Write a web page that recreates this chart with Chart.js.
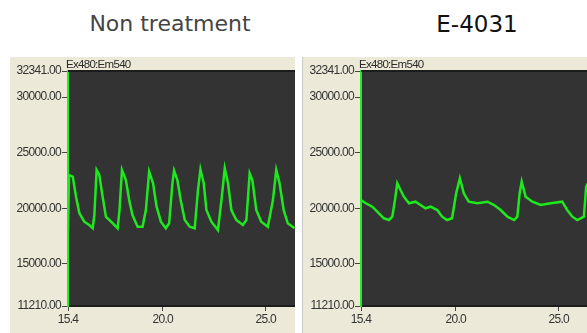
<!DOCTYPE html>
<html>
<head>
<meta charset="utf-8">
<script src="https://cdn.jsdelivr.net/npm/chart.js@4.4.1/dist/chart.umd.min.js"></script>
<style>
  html, body { margin: 0; padding: 0; background: #fff; }
  body { width: 587px; height: 333px; position: relative; overflow: hidden; }
  .title { position: absolute; top: 11px; width: 220px; text-align: center; white-space: nowrap;
           font-family: "DejaVu Sans", Verdana, sans-serif; font-size: 22px; line-height: 26px; }
  .title-left { left: 60px; color: #444; }
  .title-right { left: 367px; color: #111; font-size: 23px; }
  .panel { position: absolute; top: 57px; width: 285px; height: 276px; background: #ece9d8; }
  .panel-left { left: 10px; }
  .panel-right { left: 302px; border-left: 1px solid #c8c8c8; }
  canvas { display: block; }
</style>
</head>
<body>
<div class="title title-left">Non treatment</div>
<div class="title title-right">E-4031</div>
<div class="panel panel-left"><canvas id="left" width="285" height="276"></canvas></div>
<div class="panel panel-right"><canvas id="right" width="285" height="276"></canvas></div>

<script>
// traces: time (s) and fluorescence counts
const leftSeconds = [15.40, 15.45, 15.63, 15.79, 15.95, 16.19, 16.43, 16.60, 16.68, 16.79, 16.92, 17.08, 17.24, 17.57, 17.81,
    17.90, 18.02, 18.21, 18.37, 18.53, 18.78, 19.02, 19.18, 19.34, 19.53, 19.70, 19.91, 20.15, 20.31, 20.47,
    20.55, 20.71, 20.87, 21.07, 21.31, 21.55, 21.71, 21.83, 21.99, 22.12, 22.36, 22.68, 22.85, 23.01, 23.17,
    23.33, 23.57, 23.89, 24.06, 24.22, 24.35, 24.54, 24.78, 25.10, 25.35, 25.51, 25.67, 25.87, 26.07, 26.40];
const leftValues = [17860, 22990, 22840, 21040, 19570, 18790, 18490, 18200, 19390, 23440, 22990, 21040, 19240, 18650, 18200,
    19840, 23440, 22540, 20740, 19390, 18340, 18340, 19840, 23290, 22240, 20140, 18790, 18200, 18650, 22240,
    23380, 22540, 20740, 18940, 18340, 18200, 21640, 23500, 22240, 19840, 18790, 18040, 20740, 23590, 22240,
    19840, 18940, 18490, 18940, 23140, 22540, 19840, 18790, 18340, 20740, 23440, 22240, 19840, 18650, 18200];

const rightSeconds = [15.40, 15.63, 15.95, 16.27, 16.51, 16.76, 16.92, 17.05, 17.16, 17.32, 17.48, 17.73, 18.05, 18.29,
    18.53, 18.78, 19.10, 19.34, 19.58, 19.82, 20.02, 20.20, 20.39, 20.63, 21.05, 21.54, 21.86, 22.18, 22.51,
    22.83, 22.99, 23.10, 23.20, 23.39, 23.72, 24.12, 24.61, 25.17, 25.41, 25.66, 25.90, 26.22, 26.33, 26.41];
const rightValues = [20740, 20445, 20140, 19546, 19096, 18943, 19240, 20740, 22240, 21640, 21040, 20445, 20590, 20290,
    19995, 20140, 19840, 19240, 18940, 19100, 21340, 22690, 21340, 20590, 20445, 20590, 20290, 19840, 19240,
    18940, 19240, 21340, 22390, 21040, 20590, 20290, 20445, 20590, 19840, 19240, 18940, 19240, 21940, 22240];

const yTickValues = [32341, 30000, 25000, 20000, 15000, 11210];
const xTickValues = [15.4, 20.0, 25.0];
const xRange = [15.4, 26.42];
const channelLabel = 'Ex480:Em540';

const axisFont = '"Liberation Sans", Arial, sans-serif';
const squeeze = '-0.7px';

const plotFrame = {
    id: 'plotFrame',
    beforeLayout(chart) {
        chart.ctx.letterSpacing = squeeze;
    },
    beforeDraw(chart) {
        const { ctx, chartArea: a } = chart;
        ctx.letterSpacing = squeeze;
        ctx.save();
        ctx.fillStyle = '#333333';
        ctx.fillRect(a.left, a.top, a.right - a.left, a.bottom - a.top);
        ctx.restore();
    },
    afterDraw(chart) {
        const { ctx, chartArea: a } = chart;
        ctx.save();
        ctx.strokeStyle = '#1c1c1c';
        ctx.lineWidth = 2;
        ctx.beginPath();
        ctx.moveTo(a.left, a.top);
        ctx.lineTo(a.right, a.top);
        ctx.stroke();
        ctx.fillStyle = '#2a2a2a';
        ctx.font = '11.5px ' + axisFont;
        ctx.textBaseline = 'alphabetic';
        ctx.fillText(channelLabel, a.left - 2, a.top - 3);
        ctx.restore();
    }
};

function renderTrace(canvasId, seconds, values) {
    const points = seconds.map((x, i) => ({ x, y: values[i] }));

    return new Chart(document.getElementById(canvasId), {
        type: 'scatter',
        data: {
            datasets: [{
                data: points,
                showLine: true,
                borderColor: '#1ee81e',
                borderWidth: 2.5,
                pointRadius: 0,
                tension: 0
            }]
        },
        options: {
            responsive: false,
            animation: false,
            layout: { padding: { top: 14, right: 0, bottom: 0, left: 0 } },
            plugins: { legend: { display: false }, tooltip: { enabled: false } },
            scales: {
                x: {
                    type: 'linear',
                    min: xRange[0],
                    max: xRange[1],
                    afterBuildTicks: scale => { scale.ticks = xTickValues.map(value => ({ value })); },
                    afterFit: scale => { scale.height = 27; },
                    grid: { drawOnChartArea: false, drawTicks: true, tickLength: 5, color: '#444' },
                    border: { color: '#1c1c1c', width: 2 },
                    ticks: {
                        padding: 1,
                        color: '#333',
                        font: { family: axisFont, size: 12 },
                        maxRotation: 0,
                        callback: v => v.toFixed(1)
                    }
                },
                y: {
                    min: yTickValues[yTickValues.length - 1],
                    max: yTickValues[0],
                    afterBuildTicks: scale => { scale.ticks = yTickValues.map(value => ({ value })); },
                    afterFit: scale => { scale.width = 58; },
                    grid: { drawOnChartArea: false, drawTicks: true, tickLength: 6, color: '#444' },
                    border: { color: '#22ee22', width: 2 },
                    ticks: {
                        padding: 1,
                        color: '#333',
                        font: { family: axisFont, size: 12 },
                        callback: v => v.toFixed(2)
                    }
                }
            }
        },
        plugins: [plotFrame]
    });
}

renderTrace('left', leftSeconds, leftValues);
renderTrace('right', rightSeconds, rightValues);
</script>
</body>
</html>
